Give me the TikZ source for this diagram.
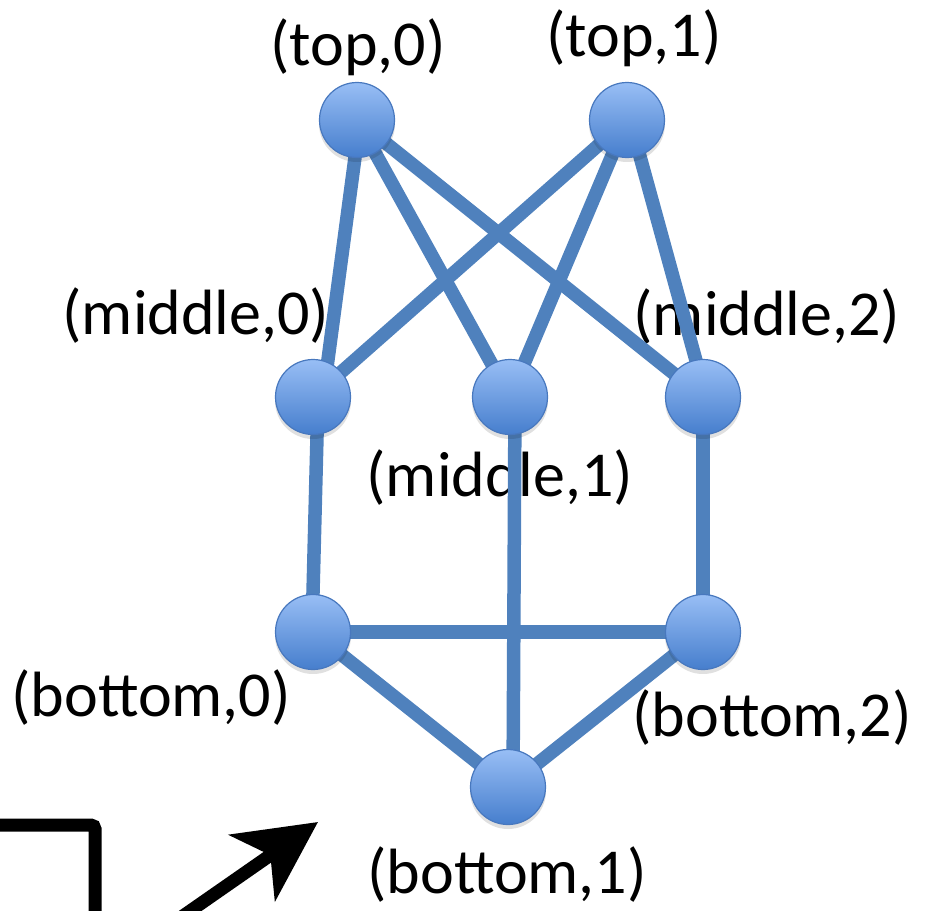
\documentclass[tikz,border=0pt]{standalone}
\usepackage{fontspec}
\setmainfont{Carlito}
\usetikzlibrary{arrows.meta}
\definecolor{edgeblue}{RGB}{79,129,189}
\definecolor{nodetop}{RGB}{152,190,245}
\definecolor{nodebot}{RGB}{70,126,205}
\definecolor{nodeline}{RGB}{72,120,190}
\tikzset{
  vtx/.style={circle, minimum size=75pt, inner sep=0pt, draw=nodeline, line width=1.2pt,
    top color=nodetop, bottom color=nodebot},
  lnk/.style={draw=edgeblue, line width=13.5pt},
  lbl/.style={font=\fontsize{64}{76}\selectfont, inner sep=0pt, text=black},
  blk/.style={draw=black, line width=13pt}
}
\begin{document}
\begin{tikzpicture}[x=1pt,y=-1pt]
\useasboundingbox (0,0) rectangle (928,910);
% labels (drawn first: edges pass over them)
\node[lbl] (L1) at (358,47) {(top,0)};
\node[lbl] (L2) at (634,38) {(top,1)};
\node[lbl] (L3) at (196,316) {(middle,0)};
\node[lbl] (L4) at (767,317) {(middle,2)};
\node[lbl] (L5) at (500,478) {(middle,1)};
\node[lbl] (L6) at (151,698) {(bottom,0)};
\node[lbl] (L7) at (772,718) {(bottom,2)};
\node[lbl] (L8) at (507,875) {(bottom,1)};
% vertex positions
\coordinate (t0) at (357,120);
\coordinate (t1) at (627,120);
\coordinate (m0) at (313,397);
\coordinate (m1) at (510,397);
\coordinate (m2) at (703,397);
\coordinate (b0) at (313,632);
\coordinate (b2) at (703,632);
\coordinate (b1) at (508,787);
% edges
\draw[lnk] ([xshift=3pt]t0) -- ([xshift=10pt]m0);
\draw[lnk] (t0) -- (m1);
\draw[lnk] (t0) -- (m2);
\draw[lnk] (t1) -- (m0);
\draw[lnk] (t1) -- (m1);
\draw[lnk] ([xshift=3pt]t1) -- ([xshift=3pt]m2);
\draw[lnk] ([xshift=5pt]m0) -- ([xshift=-1pt]b0);
\draw[lnk] ([xshift=5pt]m1) -- ([xshift=5pt]b1);
\draw[lnk] (m2) -- (b2);
\draw[lnk] (b0) -- (b2);
\draw[lnk] (b0) -- (b1);
\draw[lnk] (b2) -- (b1);
% shadows
\foreach \c in {t0,t1,m0,m1,m2,b0,b2,b1}{
  \fill[black, opacity=0.12] ([yshift=-4pt]\c) circle (38pt);
}
% nodes
\node[vtx] (T0) at (t0) {};
\node[vtx] (T1) at (t1) {};
\node[vtx] (M0) at (m0) {};
\node[vtx] (M1) at (m1) {};
\node[vtx] (M2) at (m2) {};
\node[vtx] (B0) at (b0) {};
\node[vtx] (B2) at (b2) {};
\node[vtx] (B1) at (b1) {};
% black box corner and arrow
\coordinate (k1) at (-20,825);
\coordinate (k2) at (95,825);
\coordinate (k3) at (95,930);
\draw[blk, rounded corners=4pt] (k1) -- (k2) -- (k3);
\coordinate (a1) at (170,925);
\coordinate (a2) at (318,822);
\draw[blk, -{Stealth[length=80pt, width=80pt, inset=22pt]}] (a1) -- (a2);
\end{tikzpicture}
\end{document}
